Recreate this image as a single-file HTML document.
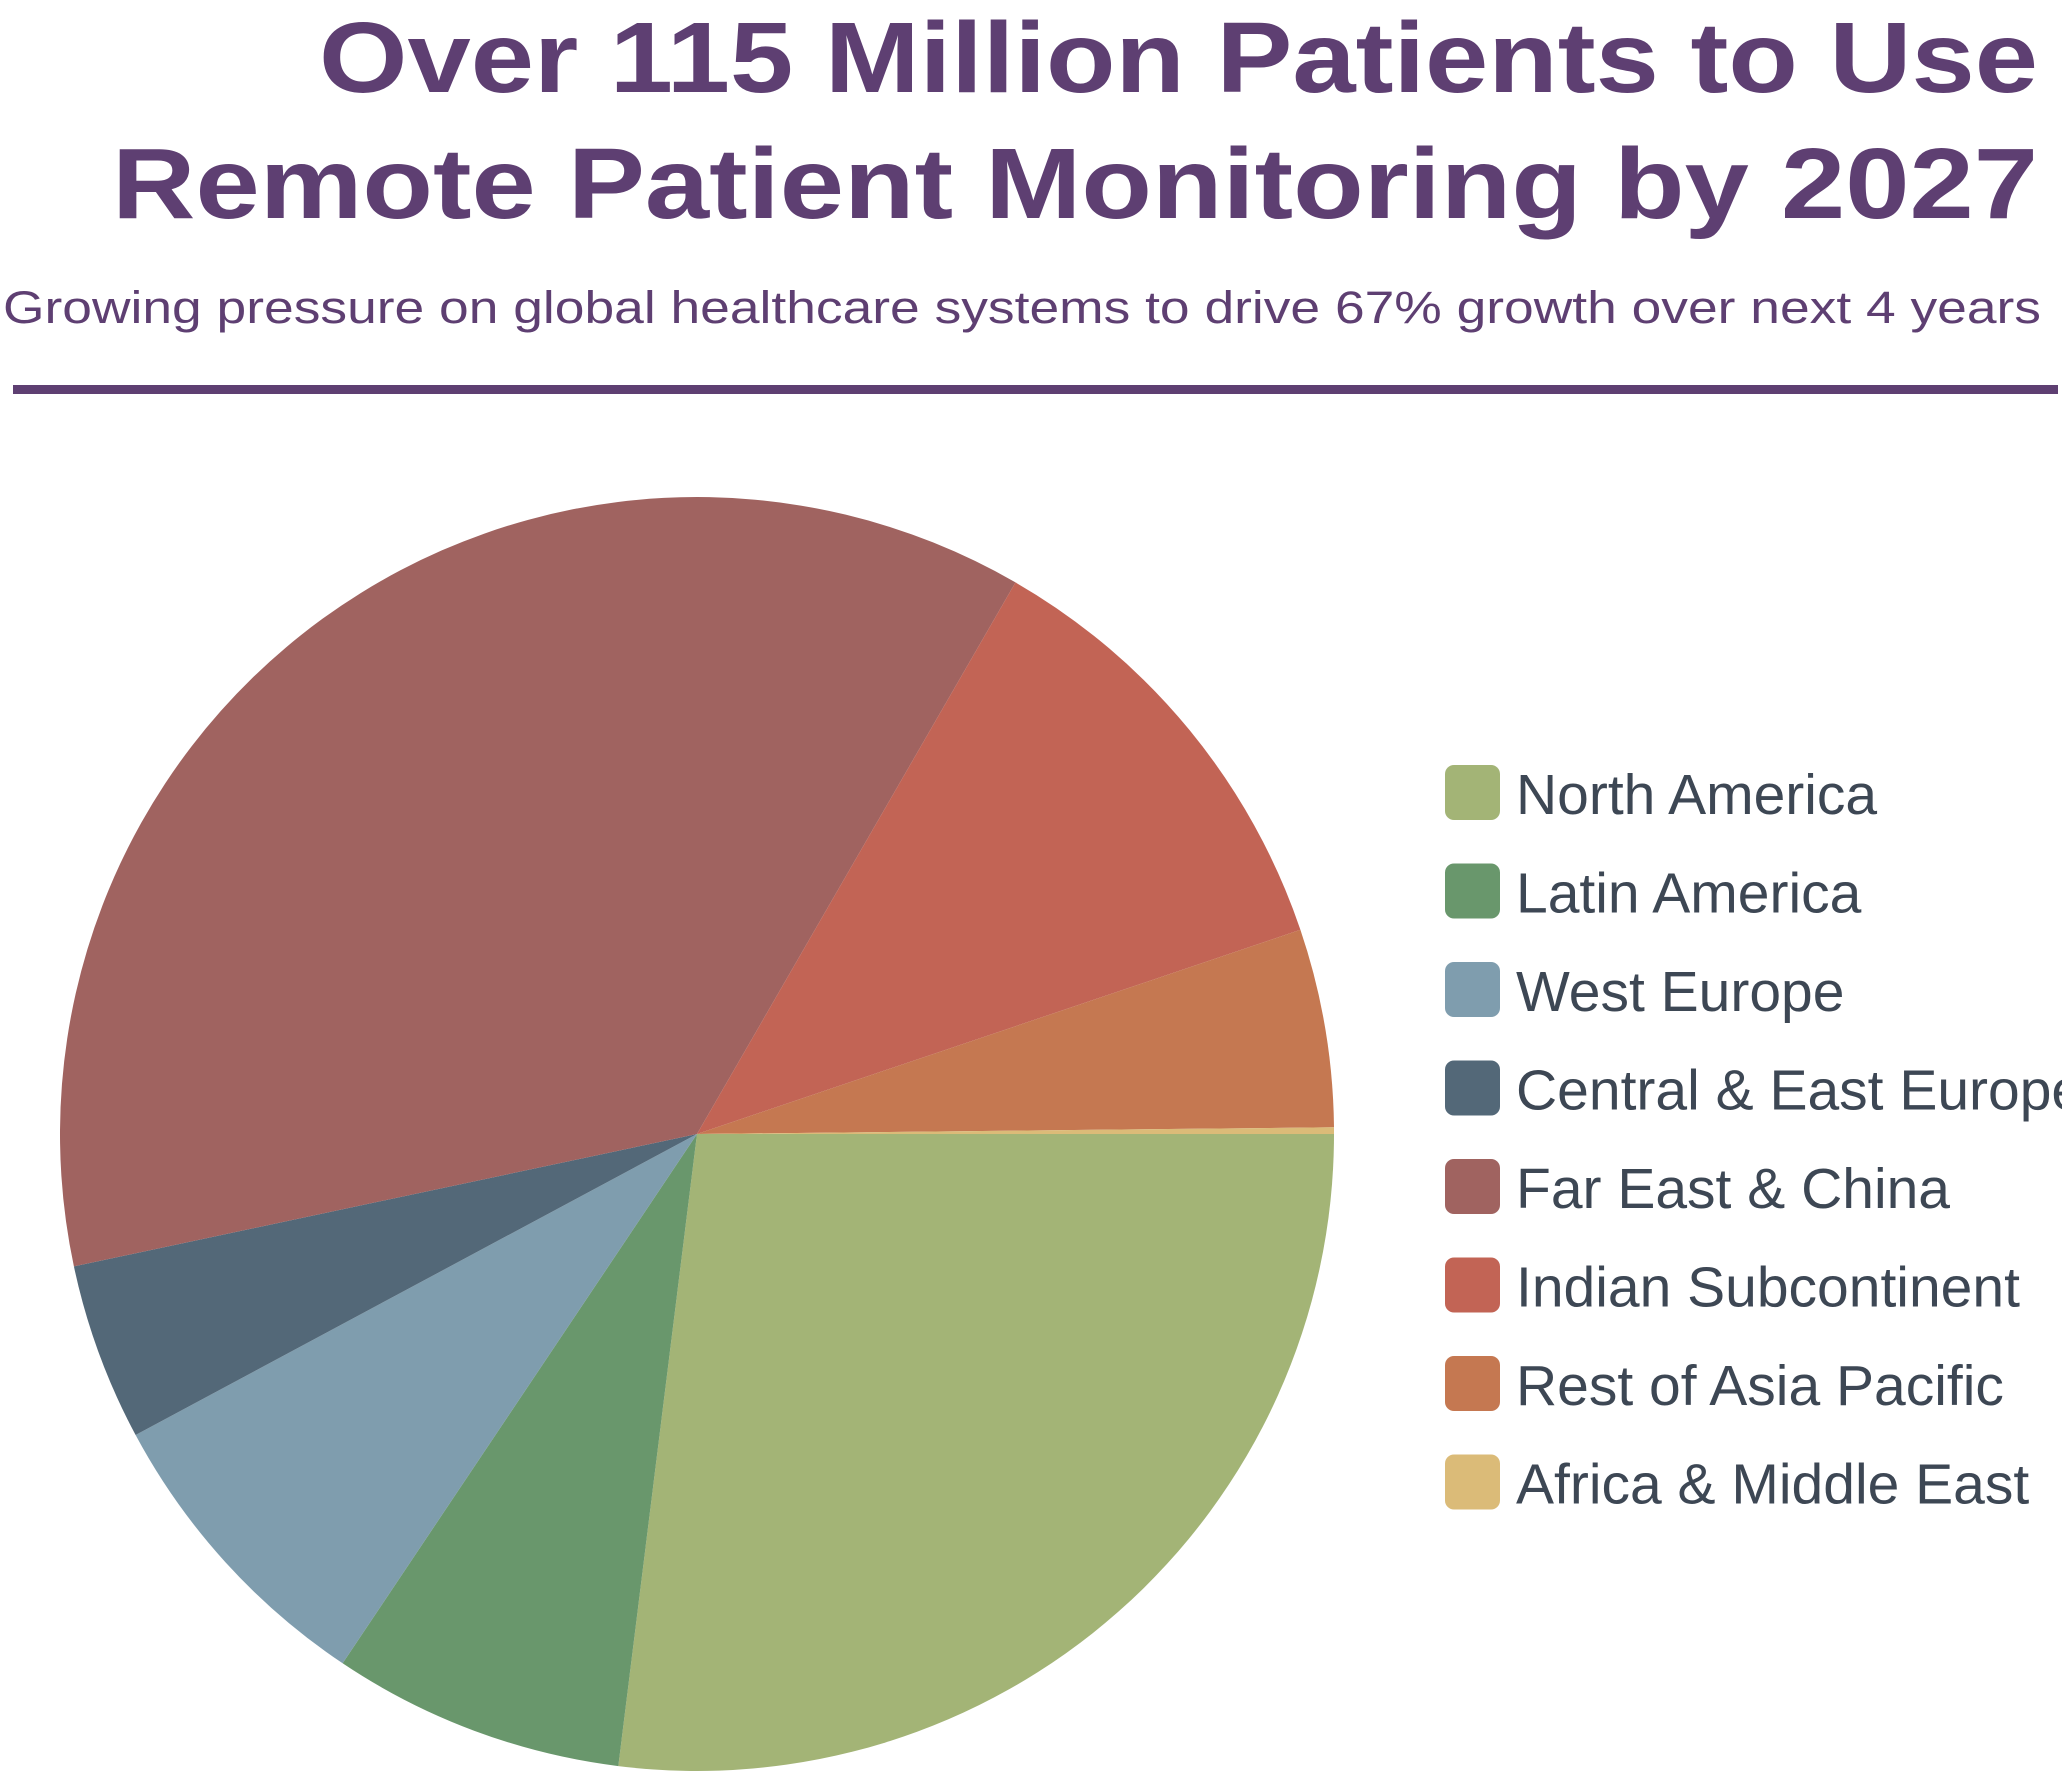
<!DOCTYPE html>
<html><head><meta charset="utf-8"><style>html,body{margin:0;padding:0;background:#fff;}svg{display:block;}</style></head>
<body>
<svg width="2062" height="1779" viewBox="0 0 2062 1779" xmlns="http://www.w3.org/2000/svg">
<g font-family="Liberation Sans, sans-serif" fill="#5e3f72">
<text x="2038" y="92" font-size="100" font-weight="bold" text-anchor="end" textLength="1719" lengthAdjust="spacingAndGlyphs">Over 115 Million Patients to Use</text>
<text x="2038" y="218" font-size="100" font-weight="bold" text-anchor="end" textLength="1926" lengthAdjust="spacingAndGlyphs">Remote Patient Monitoring by 2027</text>
<text x="3" y="323" font-size="45" textLength="2038" lengthAdjust="spacingAndGlyphs">Growing pressure on global healthcare systems to drive 67% growth over next 4 years</text>
</g>
<rect x="13" y="385" width="2045" height="9" fill="#5e3f72"/>
<g>
<path d="M697,1134 L1334,1134 A637,637 0 0 1 618.3,1766.1 Z" fill="#a3b476"/>
<path d="M697,1134 L618.3,1766.1 A637,637 0 0 1 342.6,1663.3 Z" fill="#69976c"/>
<path d="M697,1134 L342.6,1663.3 A637,637 0 0 1 135.6,1435 Z" fill="#7f9dae"/>
<path d="M697,1134 L135.6,1435 A637,637 0 0 1 73.9,1266.4 Z" fill="#536878"/>
<path d="M697,1134 L73.9,1266.4 A637,637 0 0 1 1015.5,582.4 Z" fill="#a06360"/>
<path d="M697,1134 L1015.5,582.4 A637,637 0 0 1 1300.4,929.8 Z" fill="#c26455"/>
<path d="M697,1134 L1300.4,929.8 A637,637 0 0 1 1334,1127.3 Z" fill="#c57851"/>
<path d="M697,1134 L1334,1127.3 A637,637 0 0 1 1334,1134 Z" fill="#dbbb78"/>
</g>
<g font-family="Liberation Sans, sans-serif" font-size="57" fill="#3d4754">
<rect x="1445" y="765" width="55" height="55" rx="9" fill="#a3b476"/>
<text x="1516" y="814">North America</text>
<rect x="1445" y="863.5" width="55" height="55" rx="9" fill="#69976c"/>
<text x="1516" y="912.5">Latin America</text>
<rect x="1445" y="962" width="55" height="55" rx="9" fill="#7f9dae"/>
<text x="1516" y="1011">West Europe</text>
<rect x="1445" y="1060.5" width="55" height="55" rx="9" fill="#536878"/>
<text x="1516" y="1109.5">Central &amp; East Europe</text>
<rect x="1445" y="1159" width="55" height="55" rx="9" fill="#a06360"/>
<text x="1516" y="1208">Far East &amp; China</text>
<rect x="1445" y="1257.5" width="55" height="55" rx="9" fill="#c26455"/>
<text x="1516" y="1306.5">Indian Subcontinent</text>
<rect x="1445" y="1356" width="55" height="55" rx="9" fill="#c57851"/>
<text x="1516" y="1405">Rest of Asia Pacific</text>
<rect x="1445" y="1454.5" width="55" height="55" rx="9" fill="#dbbb78"/>
<text x="1516" y="1503.5">Africa &amp; Middle East</text>
</g>
</svg>
</body></html>
